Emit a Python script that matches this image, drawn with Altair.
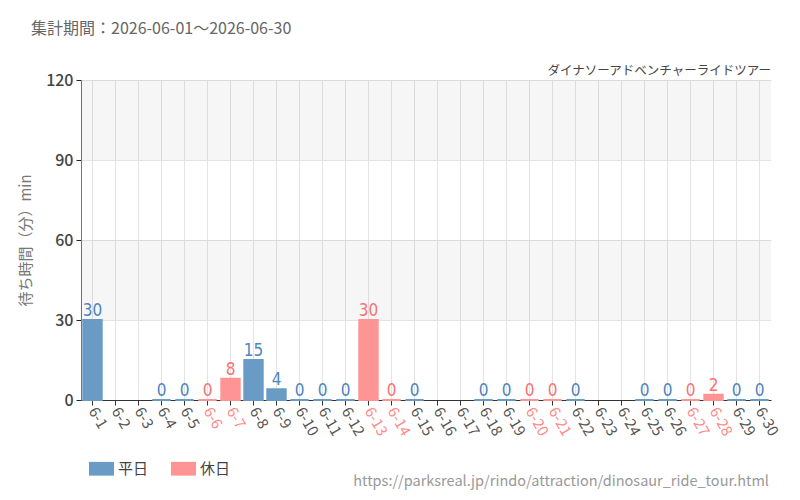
import altair as alt
import pandas as pd

# 集計データ（6月の待ち時間）
days = [f"6-{d}" for d in range(1, 31)]
waits = [30, None, None, 0, 0, 0, 8, 15, 4, 0, 0, 0, 30, 0, 0,
         None, None, 0, 0, 0, 0, 0, None, None, 0, 0, 0, 2, 0, 0]
holidays = ["6-6", "6-7", "6-13", "6-14", "6-20", "6-21", "6-27", "6-28"]
y_ticks = [0, 30, 60, 90, 120]
band_from = [30, 90]
band_to = [60, 120]

title_text = "集計期間：2026-06-01～2026-06-30"
ride_name = "ダイナソーアドベンチャーライドツアー"
source_url = "https://parksreal.jp/rindo/attraction/dinosaur_ride_tour.html"

df = pd.DataFrame({"day": days, "wait": waits})
df["kind"] = ["休日" if d in holidays else "平日" for d in days]
df_bars = df.dropna(subset=["wait"])

font = "Noto Sans CJK JP"
x_scale = alt.Scale(domain=days, paddingInner=0.2)
y_scale = alt.Scale(domain=[0, 120])
kinds = ["平日", "休日"]

# 背景の縞（半透明にしてグリッド線を透かす）
bands = alt.Chart(pd.DataFrame({"y": band_from, "y2": band_to})).mark_rect(
    color="#000000", opacity=0.035
).encode(
    y=alt.Y("y:Q", scale=y_scale),
    y2="y2:Q",
)

holiday_test = "indexof(" + str(holidays) + ", datum.value) >= 0"

bars = alt.Chart(df_bars).mark_bar(strokeWidth=2).encode(
    x=alt.X("day:N", scale=x_scale, sort=days, title=None,
            axis=alt.Axis(labelAngle=60, labelAlign="left", labelBaseline="middle",
                          labelFontSize=15, labelFont=font, labelPadding=3,
                          labelColor=alt.condition(holiday_test, alt.value("#ff8a8a"), alt.value("#555555")),
                          tickColor="#333333", tickSize=5, domainColor="#333333",
                          grid=True, gridColor="#e4e4e4", bandPosition=0.5)),
    y=alt.Y("wait:Q", scale=y_scale, title="待ち時間（分）min",
            axis=alt.Axis(values=y_ticks, labelFontSize=16, labelFont=font, labelColor="#444444",
                          labelFontWeight=500, labelPadding=3, tickColor="#222222", tickSize=5,
                          domainColor="#777777", gridColor="#e4e4e4", titleFont=font,
                          titleFontSize=15, titleFontWeight="normal", titleColor="#777777",
                          titlePadding=12)),
    color=alt.Color("kind:N", scale=alt.Scale(domain=kinds, range=["#6a9bc5", "#ff9494"]),
                    legend=alt.Legend(title=None, orient="none", legendX=8, legendY=376,
                                      direction="horizontal", columnPadding=22,
                                      symbolType="M-1,-0.55H1V0.55H-1Z", symbolSize=625,
                                      symbolStrokeWidth=0, labelFont=font, labelFontSize=15,
                                      labelColor="#444444")),
    stroke=alt.Color("kind:N", scale=alt.Scale(domain=kinds, range=["#6a9bc5", "#ff9494"]),
                     legend=None),
)

labels = alt.Chart(df_bars).mark_text(
    baseline="bottom", dy=0, font="DejaVu Sans Condensed", fontSize=17
).encode(
    x=alt.X("day:N", scale=x_scale, sort=days),
    y=alt.Y("wait:Q", scale=y_scale),
    text=alt.Text("wait:Q", format="d"),
    color=alt.Color("kind:N", scale=alt.Scale(domain=kinds, range=["#4f84bd", "#f47474"]),
                    legend=None),
)

ride = alt.Chart(pd.DataFrame({"t": [ride_name]})).mark_text(
    align="right", baseline="middle", font=font, fontSize=12.5, color="#444444"
).encode(x=alt.value(690), y=alt.value(-9), text="t:N")

source = alt.Chart(pd.DataFrame({"t": [source_url]})).mark_text(
    align="right", baseline="middle", font=font, fontSize=14.5, color="#999999"
).encode(x=alt.value(688), y=alt.value(402), text="t:N")

chart = alt.layer(bands, bars, labels, ride, source).resolve_scale(
    color="independent"
).properties(
    width=690,
    height=320,
    autosize=alt.AutoSizeParams(type="none"),
    padding={"left": 73, "top": 72, "right": 21, "bottom": 92},
    title=alt.TitleParams(title_text, anchor="start", frame="group", dx=-50, dy=-24,
                          font=font, fontSize=16, fontWeight="normal", color="#666666"),
).configure_view(stroke=None)

chart.save("out.html", embed_options={"renderer": "svg", "actions": False})
